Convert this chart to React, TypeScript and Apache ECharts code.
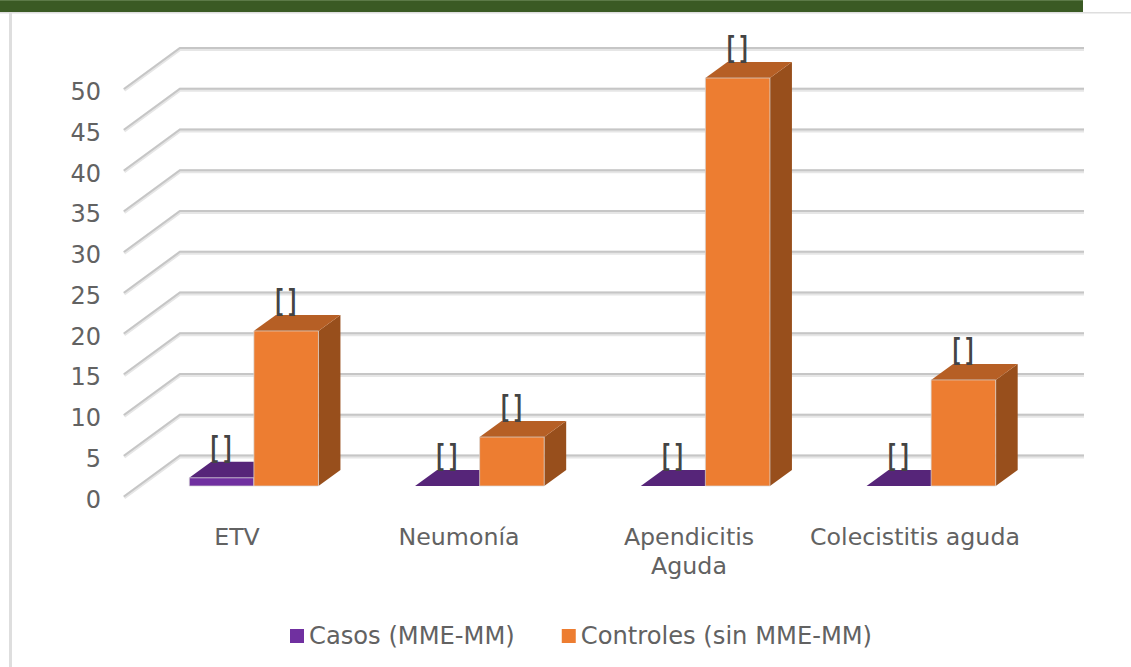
import React, { useEffect, useRef } from "react";
import * as echarts from "echarts";

const categories = ["ETV", "Neumonía", "Apendicitis\nAguda", "Colecistitis aguda"];
const casos = [1, 0, 0, 0];
const controles = [19, 6, 50, 13];
const pointLabel = "[ ]";
const yTicks = [0, 5, 10, 15, 20, 25, 30, 35, 40, 45, 50];
const seriesNames = ["Casos (MME-MM)", "Controles (sin MME-MM)"];

const FONT = "'DejaVu Sans', Verdana, sans-serif";
const TEXT = "#626262";
const WALL_DX = 56;
const WALL_DY = -41;
const DEPTH_DX = 22;
const DEPTH_DY = -16;

const colors = {
  casos: { front: "#7030A0", top: "#562579", side: "#4B2070" },
  controles: { front: "#ED7D31", top: "#B65F25", side: "#984F1C" },
};

const wallItem = (_p: any, api: any) => {
  const v = api.value(0);
  const [cx, y] = api.coord([0, v]);
  const band = api.size([1, 0])[0];
  const x0 = cx - band / 2;
  const w = band * categories.length;
  const pts = (d: number) => [
    [x0, y + d],
    [x0 + WALL_DX, y + WALL_DY + d],
    [x0 + WALL_DX + w, y + WALL_DY + d],
  ];
  return {
    type: "group",
    children: [
      { type: "polyline", shape: { points: pts(0.5) }, style: { stroke: "#E6E6E6", lineWidth: 4, fill: "none" } },
      { type: "polyline", shape: { points: pts(-0.5) }, style: { stroke: "#C6C6C6", lineWidth: 2, fill: "none" } },
    ],
  };
};

const barItem = (side: -1 | 1, c: { front: string; top: string; side: string }) => (_p: any, api: any) => {
  const [cx, yTop] = api.coord([api.value(0), api.value(1)]);
  const [, yBase] = api.coord([api.value(0), 0]);
  const bw = api.size([1, 0])[0] * 0.286;
  const x0 = side < 0 ? cx - bw : cx;
  const x1 = x0 + bw;
  const children: any[] = [
    {
      type: "polygon",
      shape: { points: [[x1, yBase], [x1 + DEPTH_DX, yBase + DEPTH_DY], [x1 + DEPTH_DX, yTop + DEPTH_DY], [x1, yTop]] },
      style: { fill: c.side },
    },
    {
      type: "polygon",
      shape: { points: [[x0, yTop], [x0 + DEPTH_DX, yTop + DEPTH_DY], [x1 + DEPTH_DX, yTop + DEPTH_DY], [x1, yTop]] },
      style: { fill: c.top },
    },
  ];
  if (yBase - yTop > 0.5) {
    children.push({
      type: "rect",
      shape: { x: x0, y: yTop, width: bw, height: yBase - yTop },
      style: { fill: c.front, stroke: "rgba(215,215,215,0.7)", lineWidth: 1 },
    });
  }
  children.push({
    type: "text",
    z2: 10,
    x: (x0 + x1) / 2 - 0.5,
    y: yTop - 31,
    scaleX: 0.75,
    style: {
      text: pointLabel,
      x: 0,
      y: 0,
      align: "center",
      verticalAlign: "middle",
      font: "bold 29px 'Liberation Sans', Arial, sans-serif",
      fill: "#444444",
    },
  });
  return { type: "group", children };
};

export default function App() {
  const ref = useRef<HTMLDivElement>(null);
  useEffect(() => {
    document.body.style.margin = "0";
    const chart = echarts.init(ref.current!, undefined, { renderer: "svg" });
    chart.setOption({
      animation: false,
      backgroundColor: "#FFFFFF",
      textStyle: { fontFamily: FONT },
      graphic: [
        { type: "rect", z: 0, shape: { x: 0, y: 12, width: 1131, height: 1.5 }, style: { fill: "#DEDEDE" } },
        { type: "rect", z: 0, shape: { x: 9, y: 12, width: 3, height: 655 }, style: { fill: "#DEDEDE" } },
        { type: "rect", z: 1, shape: { x: 0, y: 0, width: 1083, height: 12 }, style: { fill: "#3A5A24" } },
        { type: "rect", z: 1, shape: { x: 0, y: 0, width: 1083, height: 1 }, style: { fill: "#5C7A48" } },
      ],
      legend: {
        data: seriesNames,
        left: 285,
        top: 619,
        icon: "rect",
        itemWidth: 14,
        itemHeight: 14,
        itemGap: 47,
        textStyle: { color: TEXT, fontSize: 24.2, fontFamily: FONT },
      },
      grid: [
        { left: 124, top: 89.5, width: 904, height: 407.5 },
        { left: 141, top: 78, width: 903, height: 408 },
        { left: 124, top: 92, width: 904, height: 407.5 },
      ],
      xAxis: [
        {
          type: "category",
          gridIndex: 0,
          data: categories,
          axisLine: { show: false },
          axisTick: { show: false },
          axisLabel: {
            interval: 0,
            color: TEXT,
            fontSize: 23.7,
            fontFamily: FONT,
            margin: 25,
            lineHeight: 29,
            formatter: (v: string) => (v === categories[1] ? `{shift|${v}}` : v),
            rich: { shift: { color: TEXT, fontSize: 23.7, fontFamily: FONT, padding: [0, 8, 0, 0] } },
          },
        },
        { type: "category", gridIndex: 1, data: categories, show: false },
        { type: "category", gridIndex: 2, data: categories, show: false },
      ],
      yAxis: [
        { type: "value", gridIndex: 0, min: 0, max: 50, interval: 5, show: false },
        { type: "value", gridIndex: 1, min: 0, max: 50, interval: 5, show: false },
        {
          type: "value",
          gridIndex: 2,
          min: 0,
          max: 50,
          interval: 5,
          axisLine: { show: false },
          axisTick: { show: false },
          splitLine: { show: false },
          axisLabel: { color: TEXT, fontSize: 24, fontFamily: FONT, margin: 23 },
        },
      ],
      series: [
        {
          type: "custom",
          name: "walls",
          xAxisIndex: 0,
          yAxisIndex: 0,
          clip: false,
          silent: true,
          z: 1,
          data: yTicks.map((v) => [v]),
          encode: { y: 0 },
          renderItem: wallItem,
        },
        {
          type: "custom",
          name: seriesNames[0],
          xAxisIndex: 1,
          yAxisIndex: 1,
          clip: false,
          z: 2,
          itemStyle: { color: colors.casos.front },
          data: casos.map((v, i) => [i, v]),
          encode: { x: 0, y: 1 },
          renderItem: barItem(-1, colors.casos),
        },
        {
          type: "custom",
          name: seriesNames[1],
          xAxisIndex: 1,
          yAxisIndex: 1,
          clip: false,
          z: 3,
          itemStyle: { color: colors.controles.front },
          data: controles.map((v, i) => [i, v]),
          encode: { x: 0, y: 1 },
          renderItem: barItem(1, colors.controles),
        },
      ],
    });
    return () => chart.dispose();
  }, []);
  return <div ref={ref} style={{ width: 1131, height: 667 }} />;
}
